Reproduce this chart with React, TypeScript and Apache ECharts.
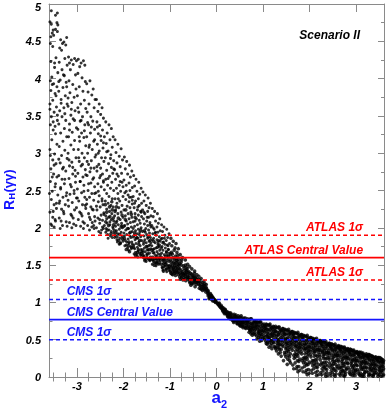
import React, { useEffect, useRef } from "react";
import * as echarts from "echarts";

// axis extents and ticks
const X_MIN = -3.6;
const X_MAX = 3.6;
const Y_MIN = 0;
const Y_MAX = 5;
const xMajorTicks = [-3, -2, -1, 0, 1, 2, 3];
const xMinorTicks = [-3.5, -3.25, -2.75, -2.5, -2.25, -1.75, -1.5, -1.25, -0.75, -0.5, -0.25, 0.25, 0.5, 0.75, 1.25, 1.5, 1.75, 2.25, 2.5, 2.75, 3.25, 3.5];

// experimental reference levels
const atlasValues = [1.9, 1.6, 1.3];
const atlasLabels = ["ATLAS 1σ", "ATLAS Central Value", "ATLAS 1σ"];
const atlasDashed = [true, false, true];
const cmsValues = [1.04, 0.77, 0.5];
const cmsLabels = ["CMS 1σ", "CMS Central Value", "CMS 1σ"];
const cmsDashed = [true, false, true];

// scan points: pairs of (a2 * 100, R * 100)
const pointsLeftOuter = [
  -355,491, -342,488, -346,485, -358,476, -355,473, -343,475, -341,472, -351,465, -346,466, -342,463, -353,461, -356,456, -350,458, -357,447, -352,443, -345,428, -348,421, -354,402, -357,397, -350,393, -343,389, -356,384, -347,380, -352,371, -358,366, -344,362, -349,355, -355,349, -342,344, -357,338, -351,331, -346,326, -354,318, -343,312, -358,305, -348,299, -352,291, -345,286, -356,279, -350,272, -343,268, -357,262, -347,255, -353,249, -341,244, -355,238, -349,231, -344,226, -358,221, -352,214, -346,209, -354,203, -349,201,
  -335,452, -328,449, -331,447, -324,445, -337,441, -322,455, -333,438, -326,427, -338,422, -321,418, -332,412, -327,404, -336,398, -323,395, -330,388, -339,383, -325,377, -334,372, -321,366, -328,361, -337,357, -332,349, -324,344, -339,339, -327,333, -335,327, -322,322, -330,316, -338,309, -326,304, -333,297, -321,293, -336,287, -329,281, -324,276, -339,270, -332,265, -327,259, -335,252, -322,247, -330,241, -337,236, -325,231, -333,225, -328,219, -338,213, -323,208, -331,203, -336,199,
  -318,429, -312,425, -305,427, -316,421, -308,419, -301,424, -314,412, -303,405, -317,397, -309,392, -302,386, -315,381, -306,375, -311,368, -319,363, -304,357, -313,351, -308,346, -316,339, -301,334, -310,328, -318,322, -305,317, -313,311, -307,305, -319,300, -302,294, -311,288, -316,283, -304,277, -309,272, -317,266, -303,261, -312,255, -306,250, -315,245, -301,240, -310,234, -318,229, -305,224, -313,218, -308,213, -316,207, -302,203, -311,200,
  -297,426, -291,421, -286,424, -294,416, -283,418, -298,407, -289,401, -282,396, -295,389, -287,383, -299,377, -284,371, -292,366, -281,360, -296,355, -288,349, -293,343, -283,338, -298,332, -290,327, -285,321, -294,316, -281,310, -297,305, -289,300, -284,294, -295,289, -291,283, -282,278, -298,273, -287,268, -293,262, -285,257, -299,252, -290,247, -283,241, -296,236, -288,231, -281,226, -294,221, -289,216, -297,211, -284,206, -292,202, -286,199,
  -279,393, -272,397, -265,386, -276,382, -268,378, -261,372, -274,366, -263,361, -278,355, -270,349, -266,343, -275,338, -262,332, -271,327, -279,322, -264,316, -273,311, -267,305, -277,300, -261,295, -269,290, -275,285, -263,280, -272,275, -278,270, -266,265, -270,260, -262,255, -276,250, -268,246, -273,241, -264,237, -279,232, -270,228, -265,224, -275,219, -262,215, -271,211, -267,207, -277,203, -263,199, -273,197, -268,201, -261,209,
  -258,372, -252,366, -246,361, -255,356, -249,352, -243,347, -257,342, -251,337, -245,331, -254,326, -241,322, -248,317, -256,312, -244,307, -252,303, -259,298, -247,294, -242,289, -253,285, -249,280, -257,276, -245,272, -251,267, -243,263, -255,259, -248,255, -241,251, -259,247, -252,243, -246,239, -254,235, -244,231, -250,228, -257,224, -242,220, -248,217, -255,213, -245,210, -251,206, -241,203, -258,200, -247,197, -253,195, -243,199, -249,193,
];

const pointsUpperFill = [
  -356,423, -348,415, -341,408, -353,392, -345,377, -358,359, -342,351, -351,342, -347,336, -339,396, -329,405, -322,389, -334,367, -326,353, -319,374, -312,359, -305,344, -316,331, -298,361, -291,344, -284,330, -295,322, -277,341, -269,335, -262,318, -274,308, -256,335, -249,323, -243,314, -254,300, -236,302, -228,293, -221,279, -233,266, -214,272, -207,262, -201,255, -211,239, -194,249, -187,241, -181,237, -176,233, -169,228, -162,221, -156,221, -149,214, -143,204, -136,200, -131,194, -124,183, -117,186, -111,178, -104,171,
];

const pointsLeftFill = [
  -357,297, -349,284, -353,268, -346,259, -359,246, -344,233, -351,222, -347,211, -356,205,
  -339,292, -331,279, -326,265, -335,254, -323,243, -338,233, -329,222, -334,209, -321,202,
  -317,291, -309,281, -303,269, -314,258, -306,246, -319,237, -301,227, -311,216, -307,205,
  -296,294, -288,285, -281,271, -293,262, -285,249, -299,240, -282,230, -291,219, -287,208,
  -278,289, -270,280, -264,267, -275,259, -262,246, -279,238, -267,225, -273,214, -264,203,
  -257,282, -249,270, -243,261, -254,249, -246,236, -258,229, -242,218, -251,211, -245,201,
];

const pointsLeftInner = [
  -238,342, -231,338, -226,333, -235,327, -222,322, -229,318, -237,313, -224,308, -233,303, -227,298, -239,294, -221,290, -232,286, -226,281, -236,277, -223,273, -230,269, -238,265, -225,261, -234,257, -228,253, -221,250, -236,246, -231,242, -224,239,
  -239,236, -233,233, -227,230, -222,228, -236,225, -230,222, -225,219, -238,216, -232,214, -226,211, -221,209, -235,206, -229,204, -223,201, -237,199, -231,197, -226,195, -221,193, -234,191, -228,189, -224,187, -233,186, -238,194, -222,199, -229,208, -236,212,
  -218,318, -212,312, -205,306, -216,301, -209,296, -202,291, -214,287, -207,282, -219,278, -204,273, -211,269, -217,265, -203,261, -209,257, -215,253, -206,249, -212,246, -201,242, -218,239, -208,236, -214,233, -203,230, -210,227, -217,224, -205,221, -212,219, -219,216, -201,214, -207,211, -214,209, -204,206, -211,204, -217,202, -202,200, -209,198, -215,196, -205,194, -212,192, -218,190, -203,188, -208,186, -214,184, -219,187, -201,182, -206,180, -213,181, -209,178, -216,193, -204,203,
  -198,295, -193,289, -187,284, -196,279, -182,276, -191,272, -185,268, -199,264, -188,260, -194,257, -181,254, -186,250, -197,247, -190,244, -183,241, -195,238, -188,235, -181,232, -192,229, -186,227, -199,224, -184,221, -190,219, -196,216, -182,214, -188,212, -194,209, -185,207, -191,205, -197,203, -183,201, -189,199, -195,197, -181,195, -187,193, -193,191, -198,189, -184,187, -190,185, -196,183, -182,181, -188,179, -194,177, -185,175, -191,173, -197,176, -183,172, -189,170, -181,178, -193,181, -186,189, -199,193,
  -178,270, -173,265, -167,261, -176,256, -162,253, -171,249, -165,245, -179,242, -168,239, -174,236, -161,233, -166,230, -177,227, -170,224, -163,222, -175,219, -168,217, -161,215, -172,212, -166,210, -179,208, -164,206, -170,204, -176,202, -162,200, -168,198, -174,196, -165,194, -171,192, -177,190, -163,188, -169,186, -175,184, -161,183, -167,181, -173,179, -178,177, -164,176, -170,174, -176,172, -162,171, -168,169, -174,167, -165,166, -171,164, -177,165, -163,163, -169,161, -161,168, -173,186, -166,191, -179,199, -175,209,
  -158,248, -153,244, -147,240, -156,236, -142,233, -151,230, -145,227, -159,224, -148,222, -154,219, -141,216, -146,214, -157,212, -150,209, -143,207, -155,205, -148,203, -141,201, -152,199, -146,197, -159,195, -144,193, -150,191, -156,189, -142,187, -148,186, -154,184, -145,182, -151,180, -157,178, -143,177, -149,175, -155,173, -141,172, -147,170, -153,168, -158,167, -144,166, -150,164, -156,162, -142,161, -148,159, -154,158, -145,157, -151,155, -157,160, -143,156, -149,171, -141,180, -153,194, -146,176,
  -138,226, -133,222, -127,219, -136,215, -122,212, -131,209, -125,206, -139,203, -128,201, -134,198, -121,196, -126,194, -137,192, -130,190, -123,188, -135,186, -128,184, -121,182, -132,180, -126,178, -139,176, -124,175, -130,173, -136,171, -122,170, -128,168, -134,166, -125,165, -131,163, -137,161, -123,160, -129,158, -135,157, -121,156, -127,154, -133,153, -138,151, -124,151, -130,149, -136,155, -122,153, -128,162, -134,172, -126,181, -132,193, -138,184, -121,164,
  -118,204, -113,201, -107,198, -116,195, -102,192, -111,190, -105,187, -119,185, -108,183, -114,181, -101,179, -106,177, -117,175, -110,173, -103,171, -115,170, -108,168, -101,166, -112,164, -106,163, -119,161, -104,159, -110,158, -116,156, -102,155, -108,153, -114,152, -105,150, -111,149, -117,147, -103,146, -109,145, -115,143, -101,142, -107,141, -113,148, -118,166, -104,176, -112,186, -106,156, -116,146, -110,162,
];

const pointsBandFill = [
  -236,221, -229,215, -224,224, -238,208, -232,203, -222,213, -227,192, -235,197, -221,204, -230,228, -239,231, -225,235,
  -216,207, -211,213, -205,201, -219,196, -208,191, -202,185, -214,188, -207,179, -218,222, -203,217, -210,183, -215,228,
  -196,211, -191,199, -185,194, -198,186, -188,181, -182,174, -194,171, -187,168, -199,202, -183,218, -190,176, -195,224,
  -176,193, -171,187, -165,183, -178,174, -168,171, -162,165, -174,163, -167,178, -179,188, -163,197, -170,167, -175,214,
  -156,181, -151,175, -145,171, -158,163, -148,165, -142,158, -154,156, -147,188, -159,170, -143,183, -150,160, -155,196,
  -136,167, -131,159, -125,157, -138,158, -128,152, -122,159, -134,150, -127,174, -139,170, -123,177, -130,154, -135,182,
  -116,159, -111,154, -105,148, -118,151, -108,144, -102,145, -114,142, -107,167, -119,173, -103,162, -110,151, -115,180, -101,148, -113,157,
  -96,146, -91,142, -85,144, -98,139, -88,140, -82,141, -94,137, -87,159, -99,157, -83,155, -90,149, -95,165, -81,150, -93,153,
  -76,143, -71,138, -65,141, -78,131, -68,139, -62,133, -74,135, -67,150, -79,152, -63,145, -70,131, -75,157,
  -56,131, -51,127, -45,129, -58,136, -48,135, -42,131, -54,125, -47,139, -59,141, -43,127, -50,133,
  -36,123, -31,121, -25,125, -38,128, -28,123, -22,120, -34,118, -27,119, -39,131, -23,117,
  -16,105, -11,104, -5,102, -18,109, -8,102, -2,100, -14,106, -7,104, -19,115, -3,103, -10,109,
];

const pointsCentre = [
  -98,186, -93,182, -87,179, -96,176, -82,172, -91,170, -85,167, -99,164, -88,162, -94,160, -81,158, -86,156, -97,154, -90,152, -83,151, -95,149, -88,147, -81,146, -92,144, -86,143, -99,142, -84,140, -90,139, -96,138, -82,137, -88,136, -94,141, -85,148, -91,157, -97,167, -83,163, -89,173, -93,146, -87,153, -99,150,
  -78,164, -73,160, -67,157, -76,154, -62,151, -71,149, -65,147, -79,145, -68,143, -74,141, -61,140, -66,138, -77,137, -70,136, -63,134, -75,133, -68,132, -61,131, -72,130, -66,129, -79,134, -64,143, -70,146, -76,150, -62,137, -73,139, -67,135, -78,139,
  -58,148, -53,145, -47,142, -56,139, -42,137, -51,136, -45,134, -59,133, -48,131, -54,130, -41,128, -46,127, -57,126, -50,125, -43,124, -55,123, -48,129, -52,134, -44,132, -58,128, -46,121, -53,138,
  -38,135, -33,132, -27,128, -36,130, -22,124, -31,127, -25,122, -39,125, -28,120, -34,122, -21,118, -26,117, -37,119, -30,116, -23,114, -35,126, -29,124, -32,118, -24,119,
  -18,116, -13,112, -7,106, -16,110, -2,102, -11,108, -5,104, -19,112, -8,105, -14,109, -1,101, -6,103, -17,113, -10,106, -3,101, -12,110, -15,107, -9,107,
  2,99, 6,96, 11,94, 4,97, 15,91, 9,93, 13,90, 18,88, 7,95, 16,87, 19,90, 12,92, 17,85, 5,98, 14,93,
  22,85, 26,86, 31,83, 24,81, 35,80, 29,78, 33,84, 38,77, 27,83, 36,75, 39,82, 32,79, 37,73, 21,88, 34,76, 28,81, 23,83, 30,86,
  42,83, 46,78, 51,80, 44,74, 55,76, 49,71, 53,82, 58,73, 47,82, 56,68, 59,79, 52,74, 57,66, 41,76, 54,70, 48,77, 43,80, 50,69, 45,71, 58,77,
  62,79, 66,74, 71,77, 64,69, 75,72, 69,65, 73,78, 78,67, 67,78, 76,60, 79,74, 72,69, 77,56, 61,72, 74,63, 68,72, 63,65, 70,60, 65,76, 78,71, 71,64, 76,66,
  82,75, 86,70, 91,73, 84,64, 95,68, 89,60, 93,74, 98,62, 87,75, 96,55, 99,70, 92,65, 97,49, 81,68, 94,58, 88,68, 83,57, 90,53, 85,72, 98,66, 91,61, 96,72, 87,51, 93,48, 82,62,
];

const pointsRight = [
  102,71, 106,66, 111,69, 104,60, 115,64, 109,55, 113,70, 118,58, 107,71, 116,49, 119,66, 112,61, 117,42, 101,63, 114,53, 108,64, 103,51, 110,47, 105,68, 118,62, 111,57, 116,68, 107,45, 113,40, 102,56, 119,38, 109,44,
  122,68, 126,62, 131,66, 124,56, 135,60, 129,49, 133,67, 138,53, 127,68, 136,43, 139,62, 132,56, 137,33, 121,59, 134,47, 128,61, 123,46, 130,40, 125,65, 138,58, 131,51, 136,64, 127,38, 133,31, 122,50, 139,28, 129,35, 124,41, 135,37,
  142,65, 146,59, 151,63, 144,52, 155,57, 149,44, 153,62, 158,49, 147,64, 156,37, 159,60, 152,51, 157,27, 141,55, 154,42, 148,57, 143,41, 150,33, 145,62, 158,54, 151,46, 156,61, 147,30, 153,24, 142,47, 159,19, 149,38, 144,22, 155,34, 148,50, 152,17,
  162,61, 166,56, 171,59, 164,48, 175,53, 169,40, 173,58, 178,45, 167,60, 176,32, 179,56, 172,47, 177,21, 161,51, 174,37, 168,53, 163,36, 170,27, 165,58, 178,50, 171,42, 176,57, 167,25, 173,14, 162,43, 179,9, 169,31, 164,16, 175,28, 168,46, 172,11, 177,39,
  182,57, 186,52, 191,55, 184,44, 195,49, 189,36, 193,54, 198,41, 187,56, 196,28, 199,52, 192,43, 197,17, 181,47, 194,33, 188,49, 183,31, 190,22, 185,54, 198,46, 191,38, 196,53, 187,19, 193,9, 182,38, 199,5, 189,26, 184,12, 195,24, 188,42, 192,6, 197,35,
  202,53, 206,48, 211,51, 204,40, 215,45, 209,32, 213,50, 218,37, 207,52, 216,24, 219,48, 212,39, 217,13, 201,43, 214,29, 208,45, 203,27, 210,18, 205,50, 218,42, 211,34, 216,49, 207,15, 213,6, 202,34, 219,3, 209,22, 204,9, 215,20, 208,38,
  222,49, 226,44, 231,47, 224,36, 235,41, 229,28, 233,46, 238,33, 227,48, 236,20, 239,44, 232,35, 237,10, 221,39, 234,25, 228,41, 223,23, 230,14, 225,46, 238,38, 231,30, 236,45, 227,11, 233,4, 222,30, 239,2, 229,18, 224,6, 235,16, 228,34,
  242,45, 246,40, 251,43, 244,32, 255,37, 249,24, 253,42, 258,29, 247,44, 256,17, 259,40, 252,31, 257,8, 241,35, 254,21, 248,37, 243,19, 250,12, 245,42, 258,34, 251,26, 256,41, 247,9, 253,3, 242,26, 259,14, 249,16, 244,5,
  262,42, 266,37, 271,40, 264,29, 275,34, 269,21, 273,39, 278,26, 267,41, 276,14, 279,37, 272,28, 277,6, 261,32, 274,18, 268,34, 263,16, 270,9, 265,39, 278,31, 271,23, 276,38, 267,7, 273,2, 262,23, 279,11, 269,13, 264,4,
  282,38, 286,33, 291,36, 284,25, 295,30, 289,18, 293,35, 298,22, 287,37, 296,12, 299,33, 292,24, 297,5, 281,28, 294,15, 288,30, 283,13, 290,7, 285,35, 298,27, 291,20, 296,34, 287,4, 293,2, 282,19, 299,9,
  302,34, 306,30, 311,33, 304,22, 315,27, 309,15, 313,31, 318,19, 307,33, 316,10, 319,29, 312,21, 317,4, 301,25, 314,13, 308,27, 303,10, 310,5, 305,31, 318,24, 311,17, 316,30, 307,3, 313,1, 302,16, 319,7,
  322,31, 326,27, 331,29, 324,19, 335,24, 329,12, 333,28, 338,16, 327,30, 336,8, 339,26, 332,18, 337,3, 321,22, 334,11, 328,24, 323,8, 330,4, 325,28, 338,21, 331,14, 336,27, 327,2, 322,13, 339,6,
  342,27, 346,23, 351,26, 344,16, 355,21, 349,10, 353,25, 358,14, 347,26, 356,6, 359,22, 352,15, 357,2, 341,19, 354,9, 348,21, 343,6, 350,3, 345,25, 358,18, 351,12, 356,23, 347,1, 342,11,
];

const pointsRightFill = [
  3,98, 8,94, 12,91, 16,90, 19,86, 10,96, 6,99, 14,88, 18,91,
  21,85, 25,84, 29,82, 33,79, 37,79, 39,75, 24,87, 28,85, 35,77, 31,80, 26,80, 38,84,
  41,81, 45,78, 49,75, 53,73, 57,71, 59,68, 44,72, 48,80, 52,68, 55,79, 42,78, 56,74, 46,75, 51,71,
  61,75, 65,71, 69,68, 73,66, 77,63, 79,58, 64,75, 68,76, 72,62, 75,78, 62,66, 76,70, 66,67, 71,73, 79,65, 74,58,
  81,72, 85,66, 89,64, 93,61, 97,57, 99,52, 84,68, 88,73, 92,56, 95,74, 82,59, 96,63, 86,55, 91,69, 99,60, 94,52, 83,74, 90,58,
  101,67, 105,62, 109,59, 113,53, 117,49, 119,45, 104,65, 108,70, 112,50, 115,71, 102,53, 116,57, 106,48, 111,64, 119,55, 114,46, 103,69, 110,52, 118,66, 107,55,
  121,64, 125,58, 129,55, 133,48, 137,44, 139,37, 124,61, 128,66, 132,43, 135,67, 122,47, 136,51, 126,40, 131,60, 139,49, 134,39, 123,67, 130,45, 138,63, 127,52, 133,57, 121,54,
  141,62, 145,56, 149,52, 153,45, 157,40, 159,31, 144,59, 148,63, 152,36, 155,64, 142,43, 156,48, 146,33, 151,58, 159,44, 154,29, 143,65, 150,40, 158,58, 147,47, 153,53, 141,50, 157,22, 149,27,
  161,58, 165,52, 169,49, 173,41, 177,35, 179,24, 164,55, 168,59, 172,30, 175,60, 162,39, 176,44, 166,29, 171,53, 179,40, 174,22, 163,61, 170,35, 178,54, 167,43, 173,49, 161,46, 177,14, 169,19, 175,7, 166,11,
  181,55, 185,49, 189,45, 193,38, 197,31, 199,20, 184,52, 188,55, 192,26, 195,56, 182,34, 196,40, 186,25, 191,49, 199,36, 194,16, 183,57, 190,31, 198,50, 187,39, 193,45, 181,42, 197,10, 189,14, 195,3, 186,7, 192,18, 184,22,
  201,51, 205,45, 209,42, 213,35, 217,28, 219,17, 204,48, 208,51, 212,23, 215,52, 202,30, 216,37, 206,22, 211,46, 219,33, 214,13, 203,53, 210,28, 218,46, 207,36, 213,42, 201,39, 217,8, 209,11, 215,2, 206,5, 212,16, 204,19,
  221,47, 225,42, 229,38, 233,31, 237,25, 239,15, 224,45, 228,48, 232,20, 235,48, 222,27, 236,33, 226,19, 231,43, 239,29, 234,11, 223,49, 230,25, 238,42, 227,33, 233,38, 221,36, 237,6, 229,8, 235,1, 226,3, 232,13, 224,16,
  241,43, 245,38, 249,35, 253,28, 257,22, 259,12, 244,41, 248,44, 252,18, 255,44, 242,24, 256,30, 246,16, 251,39, 259,26, 254,9, 243,45, 250,21, 258,38, 247,29, 253,35, 241,32, 257,4, 249,6, 255,1, 246,2, 252,11, 244,13,
  261,40, 265,35, 269,31, 273,25, 277,19, 279,10, 264,38, 268,40, 272,15, 275,40, 262,21, 276,27, 266,13, 271,36, 279,23, 274,7, 263,41, 270,18, 278,35, 267,26, 273,32, 261,29, 277,3, 269,5, 275,1, 266,2, 272,9, 264,11,
  281,36, 285,31, 289,28, 293,22, 297,16, 299,8, 284,34, 288,37, 292,12, 295,36, 282,18, 296,24, 286,10, 291,33, 299,19, 294,5, 283,37, 290,15, 298,31, 287,23, 293,29, 281,26, 297,2, 289,3, 295,9, 285,6,
  301,33, 305,28, 309,25, 313,19, 317,13, 319,6, 304,31, 308,33, 312,10, 315,32, 302,15, 316,21, 306,8, 311,29, 319,16, 314,3, 303,33, 310,12, 318,27, 307,20, 313,26, 301,22, 317,1, 309,2, 305,5,
  321,29, 325,25, 329,22, 333,16, 337,11, 339,4, 324,27, 328,30, 332,8, 335,28, 322,12, 336,18, 326,6, 331,26, 339,13, 334,2, 323,29, 330,10, 338,23, 327,17, 333,22, 321,19, 337,1, 329,3,
  341,26, 345,22, 349,19, 353,13, 357,9, 359,3, 344,24, 348,26, 352,6, 355,24, 342,9, 356,15, 346,4, 351,22, 359,11, 354,1, 343,25, 350,8, 358,20, 347,14, 353,19, 341,16,
];

const RED = "#ff0000";
const BLUE = "#1414ff";
const AXIS_GREY = "#8a8a8a";
const FONT = "'Liberation Sans', Arial, sans-serif";

function toPairs(flat: number[]): number[][] {
  const out: number[][] = [];
  for (let i = 0; i + 1 < flat.length; i += 2) out.push([flat[i] / 100, flat[i + 1] / 100]);
  return out;
}

export default function App() {
  const ref = useRef<HTMLDivElement>(null);
  useEffect(() => {
    if (!ref.current) return;
    const chart = echarts.init(ref.current, undefined, { renderer: "svg" });
    const sparseData = [
      ...toPairs(pointsLeftOuter),
      ...toPairs(pointsUpperFill),
      ...toPairs(pointsLeftFill),
      ...toPairs(pointsLeftInner),
    ];
    const denseData = [
      ...toPairs(pointsBandFill),
      ...toPairs(pointsCentre),
      ...toPairs(pointsRight),
      ...toPairs(pointsRightFill),
    ];
    const tickLabelStyle = {
      fontFamily: FONT,
      fontWeight: "bold" as const,
      fontStyle: "italic" as const,
      fontSize: 11,
      color: "#000",
    };
    const lineSeries = (vals: number[], dashed: boolean[], color: string) =>
      vals.map((v, i) => ({
        type: "line",
        data: [[X_MIN, v], [X_MAX, v]],
        showSymbol: false,
        symbol: "none",
        silent: true,
        z: 5,
        lineStyle: { color, width: dashed[i] ? 1.5 : 1.8, type: dashed[i] ? [4, 3] : "solid" },
      }));
    const option: any = {
      animation: false,
      grid: { left: 49, right: 3, top: 4, bottom: 32, containLabel: false, outerBoundsMode: "none" },
      xAxis: [
        {
          type: "value", position: "bottom", min: X_MIN, max: X_MAX,
          axisLine: { show: true, onZero: false, lineStyle: { color: AXIS_GREY, width: 1 } },
          axisTick: { show: true, inside: true, length: 9, customValues: xMajorTicks, lineStyle: { color: AXIS_GREY } },
          axisLabel: { show: true, customValues: xMajorTicks, margin: 4, lineHeight: 10, ...tickLabelStyle },
          splitLine: { show: false },
        },
        {
          type: "value", position: "bottom", min: X_MIN, max: X_MAX,
          axisLine: { show: false },
          axisTick: { show: true, inside: true, length: 4.5, customValues: xMinorTicks, lineStyle: { color: AXIS_GREY } },
          axisLabel: { show: false },
          splitLine: { show: false },
        },
        {
          type: "value", position: "top", min: X_MIN, max: X_MAX,
          axisLine: { show: true, onZero: false, lineStyle: { color: AXIS_GREY, width: 1 } },
          axisTick: { show: true, inside: true, length: 8, customValues: xMajorTicks, lineStyle: { color: AXIS_GREY } },
          axisLabel: { show: false },
          splitLine: { show: false },
        },
        {
          type: "value", position: "top", min: X_MIN, max: X_MAX,
          axisLine: { show: false },
          axisTick: { show: true, inside: true, length: 4.5, customValues: xMinorTicks, lineStyle: { color: AXIS_GREY } },
          axisLabel: { show: false },
          splitLine: { show: false },
        },
      ],
      yAxis: [
        {
          type: "value", position: "left", min: Y_MIN, max: Y_MAX, interval: 0.5,
          axisLine: { show: true, onZero: false, lineStyle: { color: AXIS_GREY, width: 1 } },
          axisTick: { show: true, inside: true, length: 7, lineStyle: { color: AXIS_GREY } },
          minorTick: { show: true, splitNumber: 2, length: 3.5, lineStyle: { color: AXIS_GREY } },
          axisLabel: {
            show: true, margin: 8, lineHeight: 8, ...tickLabelStyle,
            formatter: (v: number) => (v === Y_MAX ? "{top|" + v + "}" : String(v)),
            rich: {
              top: { ...tickLabelStyle, lineHeight: 8, padding: [5, 0, 0, 0] },
            },
          },
          splitLine: { show: false },
        },
        {
          type: "value", position: "right", min: Y_MIN, max: Y_MAX, interval: 0.5,
          axisLine: { show: true, onZero: false, lineStyle: { color: AXIS_GREY, width: 1 } },
          axisTick: { show: true, inside: true, length: 6, lineStyle: { color: AXIS_GREY } },
          minorTick: { show: true, splitNumber: 2, length: 3, lineStyle: { color: AXIS_GREY } },
          axisLabel: { show: false },
          splitLine: { show: false },
        },
      ],
      series: [
        {
          type: "scatter",
          data: sparseData,
          symbol: "circle",
          symbolSize: 3,
          silent: true,
          z: 2,
          itemStyle: { color: "#000" },
        },
        {
          type: "scatter",
          data: denseData,
          symbol: "circle",
          symbolSize: 3.6,
          silent: true,
          z: 2,
          itemStyle: { color: "#000" },
        },
        ...lineSeries(atlasValues, atlasDashed, RED),
        ...lineSeries(cmsValues, cmsDashed, BLUE),
      ],
    };
    chart.setOption(option);

    const labelStyle = (color: string) => ({
      fontFamily: FONT, fontWeight: "bold", fontStyle: "italic", fontSize: 12, fill: color,
    });
    const titleStyle = (size: number) => ({
      fontFamily: FONT, fontWeight: "bold", fontSize: size, fill: BLUE,
    });
    const graphics: any[] = [];
    atlasValues.forEach((v, i) => {
      const p = chart.convertToPixel({ gridIndex: 0 }, [3.15, v]) as number[];
      graphics.push({
        type: "text", x: p[0], y: p[1] - 2, z: 10,
        style: { text: atlasLabels[i], ...labelStyle(RED), textAlign: "right", textVerticalAlign: "bottom" },
      });
    });
    cmsValues.forEach((v, i) => {
      const p = chart.convertToPixel({ gridIndex: 0 }, [-3.22, v]) as number[];
      graphics.push({
        type: "text", x: p[0], y: p[1] - 2, z: 10,
        style: { text: cmsLabels[i], ...labelStyle(BLUE), textAlign: "left", textVerticalAlign: "bottom" },
      });
    });
    graphics.push({
      type: "text", x: 360, y: 35, z: 10,
      style: { text: "Scenario II", ...labelStyle("#000"), textAlign: "right", textVerticalAlign: "middle" },
    });
    // x-axis title a_2
    graphics.push({
      type: "text", x: 221, y: 397.5, z: 10,
      style: { text: "a", ...titleStyle(17), lineHeight: 10, textAlign: "right", textVerticalAlign: "middle" },
    });
    graphics.push({
      type: "text", x: 221, y: 403.5, z: 10,
      style: { text: "2", ...titleStyle(11), lineHeight: 9, textAlign: "left", textVerticalAlign: "middle" },
    });
    // y-axis title R_H(γγ), rotated to read upward
    graphics.push({
      type: "text", x: 8.5, y: 210, rotation: Math.PI / 2, z: 10,
      style: { text: "R", ...titleStyle(14), textAlign: "left", textVerticalAlign: "middle" },
    });
    graphics.push({
      type: "text", x: 11.5, y: 199.5, rotation: Math.PI / 2, z: 10,
      style: { text: "H", ...titleStyle(9), textAlign: "left", textVerticalAlign: "middle" },
    });
    graphics.push({
      type: "text", x: 8.5, y: 192.5, rotation: Math.PI / 2, z: 10,
      style: { text: "(γγ)", ...titleStyle(13), textAlign: "left", textVerticalAlign: "middle" },
    });
    chart.setOption({ graphic: graphics });

    return () => chart.dispose();
  }, []);
  return <div ref={ref} style={{ position: "fixed", left: 0, top: 0, width: 387, height: 409 }} />;
}
